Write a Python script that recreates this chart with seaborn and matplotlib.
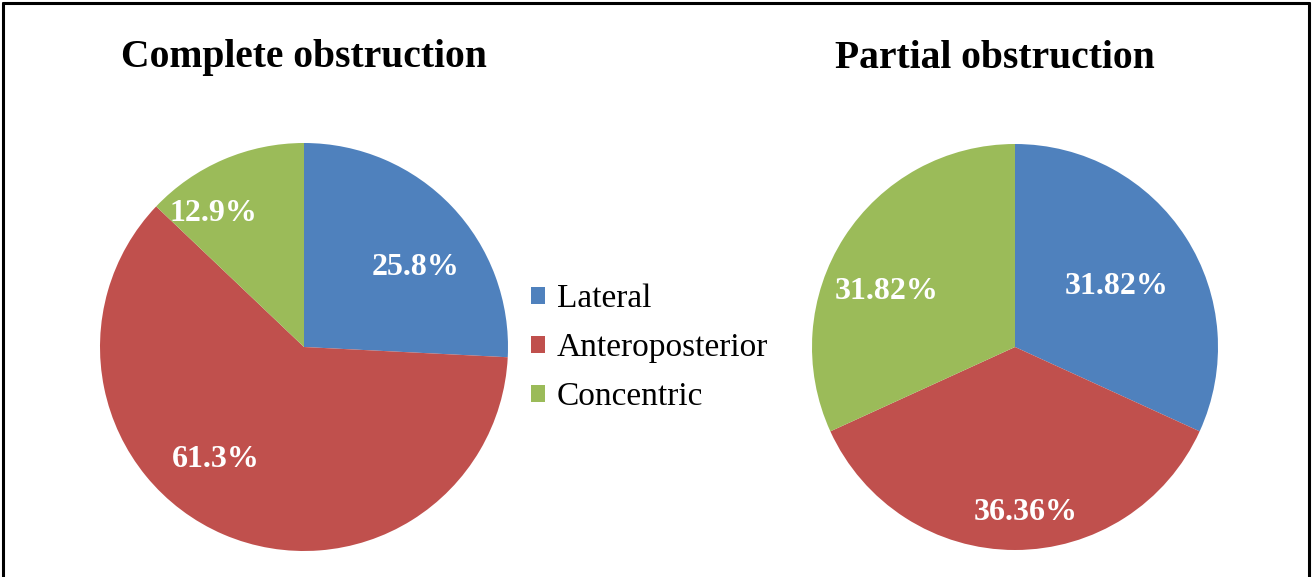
import numpy as np
import matplotlib
matplotlib.use("Agg")
import matplotlib.pyplot as plt
import seaborn as sns
from matplotlib.patches import Patch

# datos
categorias = ["Lateral", "Anteroposterior", "Concentric"]
completa = [25.8, 61.3, 12.9]
parcial = [31.82, 36.36, 31.82]
titulos = ["Complete obstruction", "Partial obstruction"]

sns.set_theme(style="white")
plt.rcParams["font.family"] = ["Liberation Serif", "DejaVu Serif"]
plt.rcParams["text.color"] = "black"
colores = ["#4F81BD", "#C0504D", "#9BBB59"]

W, H = 1313, 577
fig = plt.figure(figsize=(W / 100, H / 100), dpi=100)

# marco negro (abierto abajo)
fig.add_artist(plt.Line2D([3 / W, 3 / W], [0, 1 - 3 / H], color="black", lw=2.2))
fig.add_artist(plt.Line2D([1 - 4 / W, 1 - 4 / W], [0, 1 - 3 / H], color="black", lw=2.2))
fig.add_artist(plt.Line2D([3 / W, 1 - 4 / W], [1 - 3 / H, 1 - 3 / H], color="black", lw=2.2))


def tarta(cx, cy, r, valores, fmt, titulo, tx, ajustes):
    ax = fig.add_axes([(cx - r) / W, 1 - (cy + r) / H, 2 * r / W, 2 * r / H])
    wedges, _, textos = ax.pie(
        valores, colors=colores, startangle=90, counterclock=False,
        autopct=fmt, pctdistance=0.68, radius=1,
        wedgeprops=dict(linewidth=0),
        textprops=dict(color="white", fontsize=23, fontweight="bold"),
    )
    # reposicion de etiquetas (distancia, desplazamiento angular)
    for w, t, (d, da) in zip(wedges, textos, ajustes):
        ang = np.deg2rad((w.theta1 + w.theta2) / 2 + da)
        t.set_position((d * np.cos(ang), d * np.sin(ang)))
    ax.set_xlim(-1, 1)
    ax.set_ylim(-1, 1)
    ax.set_aspect("equal")
    ax.axis("off")
    fig.text(tx / W, 1 - 58 / H, titulo, ha="center", va="center",
             fontsize=28.5, fontweight="bold", color="black")
    return wedges


tarta(304, 347, 204, completa, "%.1f%%", titulos[0], 304,
      [(0.67, -8), (0.70, -15), (0.79, 11)])
tarta(1015, 347, 203, parcial, "%.2f%%", titulos[1], 995,
      [(0.58, -2), (0.815, 3.8), (0.69, 9.6)])

handles = [Patch(facecolor=c, edgecolor="none") for c in colores]
fig.legend(handles, categorias, loc="center left",
           bbox_to_anchor=(531 / W, 1 - 348 / H), frameon=False,
           fontsize=24, handlelength=0.42, handleheight=0.42,
           handletextpad=0.35, labelspacing=0.55, borderpad=0,
           borderaxespad=0)

fig.savefig("out.png", dpi=100, facecolor="white")
